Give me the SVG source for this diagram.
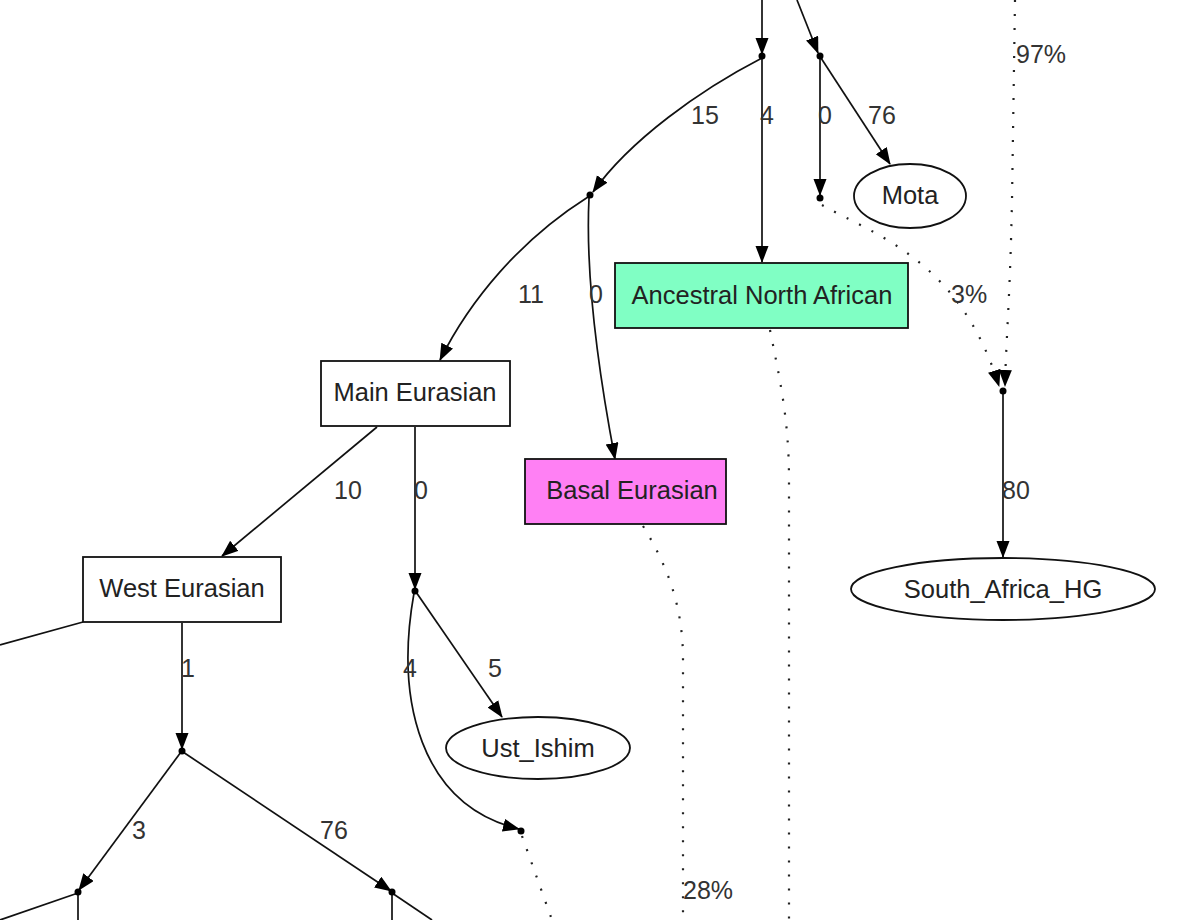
<svg xmlns="http://www.w3.org/2000/svg" width="1200" height="920" viewBox="0 0 1200 920">
<defs>
<marker id="arr" markerUnits="userSpaceOnUse" markerWidth="20" markerHeight="16" refX="16" refY="6.5" orient="auto">
<path d="M0,0 L17,6.5 L0,13 z" fill="#000"/>
</marker>
<style>
.e{fill:none;stroke:#111;stroke-width:1.7}
.d{fill:none;stroke:#222;stroke-width:2.2;stroke-dasharray:2 12}
.a{marker-end:url(#arr)}
.n{stroke:#111;stroke-width:1.8}
.t{font-family:"Liberation Sans",Arial,sans-serif;font-size:25.5px;fill:#222;text-anchor:middle}
.l{font-family:"Liberation Sans",Arial,sans-serif;font-size:25px;fill:#333}
.j{fill:#000}
</style>
</defs>
<rect width="1200" height="920" fill="#fff"/>
<g id="connectors">
<path class="e a" d="M762,0 L762,54"/>
<path class="e a" d="M797,0 L818,53"/>
<path class="e a" d="M762,58 C700,90 630,140 593,192"/>
<path class="e a" d="M762,58 L762,262"/>
<path class="e a" d="M820,58 L820,195"/>
<path class="e a" d="M821,58 L890,164"/>
<path class="d a" d="M822,205 C875,235 960,260 999,386"/>
<path class="d a" d="M1015,0 L1012,200 C1010,300 1006,340 1005,386"/>
<path class="e a" d="M1003,393 L1003,557"/>
<path class="d" d="M770,330 C780,380 789,420 789,480 L789,920"/>
<path class="e a" d="M588,197 C520,240 470,300 440,360"/>
<path class="e a" d="M589,198 C585,280 600,380 615,459"/>
<path class="d" d="M643,526 C670,570 683,610 683,660 L683,920"/>
<path class="e a" d="M377,427 L222,556"/>
<path class="e a" d="M415,427 L415,589"/>
<path class="e" d="M83,622 L0,645"/>
<path class="e a" d="M182,623 L182,749"/>
<path class="e a" d="M416,592 L502,717"/>
<path class="e a" d="M414,593 C395,700 420,805 519,829"/>
<path class="d" d="M522,836 L552,920"/>
<path class="e a" d="M181,752 L79,890"/>
<path class="e a" d="M183,752 L391,891"/>
<path class="e" d="M78,893 L0,920"/>
<path class="e" d="M78,893 L78,920"/>
<path class="e" d="M392,893 L392,920"/>
<path class="e" d="M392,893 L432,920"/>
<circle class="j" cx="762" cy="56" r="3.5"/>
<circle class="j" cx="820" cy="56" r="3.5"/>
<circle class="j" cx="590" cy="195" r="3.5"/>
<circle class="j" cx="820" cy="198" r="3.5"/>
<circle class="j" cx="1003" cy="391" r="3.5"/>
<circle class="j" cx="415" cy="591" r="3.5"/>
<circle class="j" cx="182" cy="751" r="3.5"/>
<circle class="j" cx="521" cy="831" r="3.5"/>
<circle class="j" cx="78" cy="892" r="3.5"/>
<circle class="j" cx="392" cy="892" r="3.5"/>
<text class="l" x="691" y="124">15</text>
<text class="l" x="760" y="124">4</text>
<text class="l" x="818" y="124">0</text>
<text class="l" x="868" y="124">76</text>
<text class="l" x="1016" y="63">97%</text>
<text class="l" x="951" y="303">3%</text>
<text class="l" x="518" y="303">11</text>
<text class="l" x="589" y="303">0</text>
<text class="l" x="334" y="499">10</text>
<text class="l" x="414" y="499">0</text>
<text class="l" x="1002" y="499">80</text>
<text class="l" x="181" y="677">1</text>
<text class="l" x="403" y="677">4</text>
<text class="l" x="488" y="677">5</text>
<text class="l" x="132" y="839">3</text>
<text class="l" x="320" y="839">76</text>
<text class="l" x="683" y="899">28%</text>
</g>
<g id="mota">
<ellipse class="n" cx="910" cy="196" rx="56" ry="32" fill="#fff"/>
<text class="t" x="910" y="204">Mota</text>
</g>
<g id="ancestral-north-african">
<rect class="n" x="615" y="263" width="293" height="65" fill="#80ffc4"/>
<text class="t" x="762" y="304">Ancestral North African</text>
</g>
<g id="main-eurasian">
<rect class="n" x="321" y="361" width="189" height="65" fill="#fff"/>
<text class="t" x="415" y="401">Main Eurasian</text>
</g>
<g id="basal-eurasian">
<rect class="n" x="525" y="459" width="201" height="65" fill="#ff80f4"/>
<text class="t" x="632" y="499">Basal Eurasian</text>
</g>
<g id="south-africa-hg">
<ellipse class="n" cx="1003" cy="589" rx="152" ry="31" fill="#fff"/>
<text class="t" x="1003" y="598">South_Africa_HG</text>
</g>
<g id="west-eurasian">
<rect class="n" x="83" y="557" width="198" height="65" fill="#fff"/>
<text class="t" x="182" y="597">West Eurasian</text>
</g>
<g id="ust-ishim">
<ellipse class="n" cx="538" cy="748" rx="92" ry="31" fill="#fff"/>
<text class="t" x="538" y="757">Ust_Ishim</text>
</g>
</svg>
